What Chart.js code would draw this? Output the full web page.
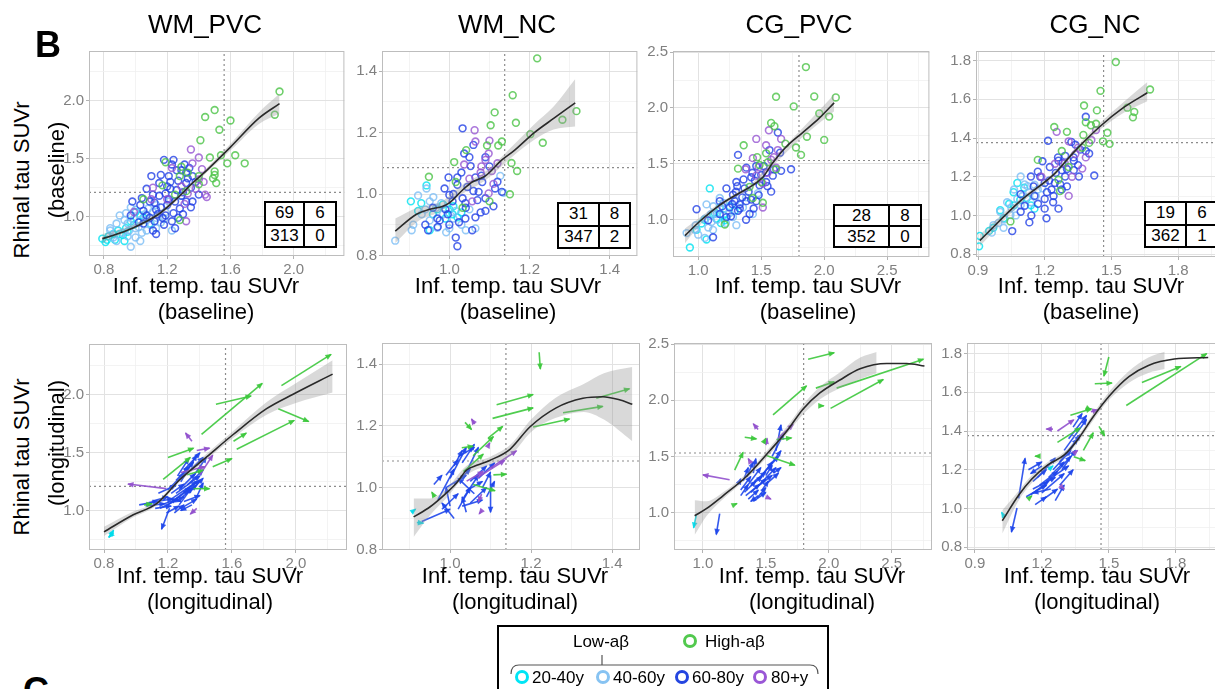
<!DOCTYPE html>
<html>
<head>
<meta charset="utf-8">
<script src="https://cdn.jsdelivr.net/npm/chart.js@4.4.1/dist/chart.umd.min.js"></script>
<style>
  html, body { margin: 0; padding: 0; }
  body { width: 1215px; height: 689px; overflow: hidden; position: relative; background: #fff;
         font-family: "Liberation Sans", Arial, Helvetica, sans-serif; color: #000; }
  canvas { position: absolute; z-index: 1; }
  .t { position: absolute; line-height: 1; white-space: nowrap; transform: translate(-50%, -50%); z-index: 3; }
  .v { position: absolute; line-height: 1; white-space: nowrap; transform: translate(-50%, -50%) rotate(-90deg); z-index: 3; font-size: 22px; }
  .ax { font-size: 22px; }
  .ct { position: absolute; display: grid; gap: 2px; padding: 2px; background: #000; z-index: 3; }
  .ct span { background: #fff; display: flex; align-items: center; justify-content: center; font-size: 17px; }
  .legend { position: absolute; left: 497px; top: 625px; width: 332px; height: 90px; border: 2px solid #000; box-sizing: border-box; z-index: 3; }
  .ring { position: absolute; width: 14px; height: 14px; border-radius: 50%; border: 3.5px solid; box-sizing: border-box; transform: translate(-50%, -50%); z-index: 4; }
  .lg { position: absolute; line-height: 1; white-space: nowrap; transform: translate(0, -50%); font-size: 17px; z-index: 4; }
</style>
</head>
<body>

<div class="t" style="left:48px;top:45px;font-size:36px;font-weight:bold">B</div>
<div class="t" style="left:36px;top:691px;font-size:36px;font-weight:bold">C</div>

<div class="t" style="left:205px;top:24px;font-size:26px">WM_PVC</div>
<div class="t" style="left:507px;top:24px;font-size:26px">WM_NC</div>
<div class="t" style="left:799px;top:24px;font-size:26px">CG_PVC</div>
<div class="t" style="left:1095px;top:24px;font-size:26px">CG_NC</div>

<div class="v" style="left:22px;top:180px">Rhinal tau SUVr</div>
<div class="v" style="left:57px;top:170px">(baseline)</div>
<div class="v" style="left:22px;top:457px">Rhinal tau SUVr</div>
<div class="v" style="left:57px;top:443px">(longitudinal)</div>

<div class="t ax" style="left:206px;top:286px">Inf. temp. tau SUVr</div>
<div class="t ax" style="left:206px;top:312px">(baseline)</div>
<div class="t ax" style="left:508px;top:286px">Inf. temp. tau SUVr</div>
<div class="t ax" style="left:508px;top:312px">(baseline)</div>
<div class="t ax" style="left:808px;top:286px">Inf. temp. tau SUVr</div>
<div class="t ax" style="left:808px;top:312px">(baseline)</div>
<div class="t ax" style="left:1091px;top:286px">Inf. temp. tau SUVr</div>
<div class="t ax" style="left:1091px;top:312px">(baseline)</div>

<div class="t ax" style="left:210px;top:576px">Inf. temp. tau SUVr</div>
<div class="t ax" style="left:210px;top:602px">(longitudinal)</div>
<div class="t ax" style="left:515px;top:576px">Inf. temp. tau SUVr</div>
<div class="t ax" style="left:515px;top:602px">(longitudinal)</div>
<div class="t ax" style="left:812px;top:576px">Inf. temp. tau SUVr</div>
<div class="t ax" style="left:812px;top:602px">(longitudinal)</div>
<div class="t ax" style="left:1097px;top:576px">Inf. temp. tau SUVr</div>
<div class="t ax" style="left:1097px;top:602px">(longitudinal)</div>

<!-- 2x2 counts above/below the cutoffs -->
<div class="ct" style="left:264px;top:201px;grid-template-columns:37px 30px;grid-auto-rows:20.5px">
  <span>69</span><span>6</span><span>313</span><span>0</span>
</div>
<div class="ct" style="left:557px;top:202px;grid-template-columns:39px 29px;grid-auto-rows:20.5px">
  <span>31</span><span>8</span><span>347</span><span>2</span>
</div>
<div class="ct" style="left:833px;top:204px;grid-template-columns:53px 30px;grid-auto-rows:19px">
  <span>28</span><span>8</span><span>352</span><span>0</span>
</div>
<div class="ct" style="left:1144px;top:201px;grid-template-columns:39px 30px;grid-auto-rows:20.5px">
  <span>19</span><span>6</span><span>362</span><span>1</span>
</div>

<div class="legend"></div>
<svg style="position:absolute;left:0;top:0;z-index:4" width="1215" height="689">
  <path d="M511 674 Q511 665 519 665 H810 Q818 665 818 674 M602 665 V655" fill="none" stroke="#555" stroke-width="1.2"/>
</svg>
<div class="t" style="left:601px;top:641px;font-size:17px;z-index:4">Low-aβ</div>
<div class="ring" style="left:690px;top:641px;border-color:#52C94E"></div>
<div class="lg" style="left:705px;top:641px">High-aβ</div>
<div class="ring" style="left:522px;top:677px;border-color:#00E5F5"></div>
<div class="lg" style="left:532px;top:677px">20-40y</div>
<div class="ring" style="left:603px;top:677px;border-color:#87C3F2"></div>
<div class="lg" style="left:613px;top:677px">40-60y</div>
<div class="ring" style="left:682px;top:677px;border-color:#2445E0"></div>
<div class="lg" style="left:692px;top:677px">60-80y</div>
<div class="ring" style="left:760px;top:677px;border-color:#9A57D6"></div>
<div class="lg" style="left:771px;top:677px">80+y</div>

<script>
// ---- tick labels and cutoffs ----
const xTicksWmPvc = [0.8, 1.2, 1.6, 2.0];
const yTicksWmPvc = [1.0, 1.5, 2.0];
const xTicksWmNc = [1.0, 1.2, 1.4];
const yTicksWmNc = [0.8, 1.0, 1.2, 1.4];
const xTicksCgPvc = [1.0, 1.5, 2.0, 2.5];
const yTicksCgPvc = [1.0, 1.5, 2.0, 2.5];
const xTicksCgNc = [0.9, 1.2, 1.5, 1.8];
const yTicksCgNc = [0.8, 1.0, 1.2, 1.4, 1.6, 1.8];

const cutWmPvc = [1.56, 1.21];
const cutWmNc = [1.138, 1.086];
const cutCgPvc = [1.80, 1.53];
const cutCgNc = [1.465, 1.376];

// ---- baseline scatter: [inf. temp., rhinal] ----
const wmPvcHigh = [[1.91,2.08],[1.88,1.88],[1.50,1.92],[1.44,1.86],[1.60,1.83],[1.53,1.75],[1.41,1.66],[1.63,1.53],[1.69,1.46],[1.58,1.46],[1.54,1.53],[1.47,1.51],[1.19,1.47],[1.29,1.43],[1.17,1.27],[1.28,1.35],[1.33,1.38],[1.25,1.19],[1.50,1.39],[1.50,1.36],[1.49,1.33],[1.51,1.29],[1.05,1.15],[1.28,0.97],[1.32,1.22],[1.40,1.35],[1.40,1.28]];
const wmPvc80 = [[1.35,1.58],[1.40,1.51],[1.23,1.42],[1.42,1.41],[1.40,1.32],[1.38,1.24],[1.44,1.19],[1.45,1.17],[1.31,1.11],[1.32,0.96],[1.10,1.15],[0.99,1.04],[1.20,1.15],[1.11,1.25],[1.36,1.46],[1.29,1.26],[1.33,1.20],[1.43,1.30]];
const wmPvc60 = [[1.18,1.49],[1.24,1.49],[1.29,1.40],[1.34,1.42],[1.21,1.35],[1.27,1.31],[1.32,1.29],[1.35,1.25],[1.22,1.24],[1.15,1.18],[1.20,1.10],[1.28,1.07],[1.32,1.13],[1.09,1.13],[1.13,1.06],[1.03,1.10],[1.17,0.99],[1.23,0.96],[1.11,0.88],[1.05,0.94],[0.97,1.01],[1.07,1.24],[1.10,1.35],[1.36,1.35],[1.36,1.13],[1.25,0.90],[0.98,1.13],[1.13,0.85],[1.15,1.29],[1.19,1.01],[1.30,1.21],[1.07,1.01],[1.12,0.96],[1.21,1.15],[1.25,1.13],[1.32,1.38],[1.40,1.19],
  [1.05,1.05],[1.12,1.12],[1.16,1.08],[1.19,1.20],[1.26,1.23],[1.29,1.18],[1.33,1.33],[1.26,1.40],[1.22,1.30],[1.14,1.02],[1.18,0.93],[1.09,0.99],[1.02,0.95],[1.24,1.03],[1.30,1.02],[1.35,1.08],[1.38,1.30],[1.16,1.36],[1.23,1.45],[1.11,1.19],[1.04,1.16],[1.27,0.99],[1.20,1.26],[1.31,1.45]];
const wmPvc40 = [[0.84,0.88],[0.88,0.79],[0.95,0.83],[1.00,0.90],[0.95,0.94],[0.90,1.01],[0.97,1.08],[0.94,1.03],[1.03,0.97],[1.07,0.88],[1.13,0.90],[1.19,1.04],[1.23,0.88],[1.08,1.07],[1.03,0.79],[1.13,0.99],[0.88,0.94],[0.84,0.90],[0.97,0.74],[1.00,0.82],[1.21,1.13],[1.29,1.18],[0.96,0.88],[1.07,0.97],[1.13,1.10],
  [0.92,0.86],[0.99,0.98],[1.02,0.91],[1.06,1.02],[1.10,0.93],[1.16,0.95],[1.00,1.06],[0.93,0.97],[0.86,0.82],[1.11,1.04],[1.18,0.98],[1.04,0.86]];
const wmPvc20 = [[0.79,0.81],[0.81,0.78],[0.83,0.83],[0.90,0.85],[0.93,0.79],[0.89,0.88],[0.97,0.96],[0.94,0.90],[1.03,1.01],[1.09,0.94],[0.86,0.85],[1.00,1.04],[0.82,0.80],[0.87,0.80],[0.92,0.84],[0.95,0.87],[0.99,0.93],[1.05,0.99]];
const wmPvcFit = [[0.79,0.81],[0.84,0.83],[0.98,0.90],[1.15,1.025],[1.28,1.18],[1.36,1.29],[1.45,1.40],[1.60,1.60],[1.78,1.85],[1.91,1.975]];
const wmPvcBand = [[0.79,0.77,0.85],[0.90,0.84,0.89],[1.00,0.90,0.94],[1.15,1.005,1.045],[1.28,1.16,1.20],[1.45,1.38,1.42],[1.60,1.57,1.63],[1.78,1.80,1.90],[1.91,1.89,2.06]];

const wmNcHigh = [[1.219,1.442],[1.158,1.322],[1.113,1.266],[1.103,1.224],[1.166,1.232],[1.202,1.195],[1.233,1.167],[1.282,1.242],[1.317,1.270],[1.131,1.171],[1.122,1.158],[1.094,1.158],[1.042,1.143],[1.012,1.104],[0.949,1.056],[1.155,1.101],[1.169,1.075],[1.100,0.976],[1.151,0.999],[1.033,0.955],[1.016,1.039]];
const wmNc80 = [[1.063,1.208],[1.065,1.171],[1.100,1.174],[1.098,1.132],[1.090,1.111],[1.037,1.096],[1.078,1.070],[1.110,1.033],[1.098,1.002],[1.057,0.976],[1.106,1.075],[1.05,1.05],[1.08,1.09],[1.12,1.10]];
const wmNc60 = [[1.033,1.214],[1.037,1.132],[1.053,1.091],[0.998,1.054],[1.020,1.054],[1.065,1.054],[1.082,1.039],[1.045,1.023],[1.073,1.007],[1.090,0.986],[1.114,1.018],[1.131,1.007],[0.988,1.018],[1.008,0.976],[1.041,0.955],[1.065,0.924],[1.078,0.940],[0.947,0.882],[0.976,0.914],[1.016,0.858],[1.020,0.830],[1.024,0.908],[1.090,0.945],[0.996,0.934],[1.057,0.882],[0.971,0.893],[0.959,0.955],[1.033,0.986],[1.000,0.997],
  [1.01,1.00],[1.04,0.97],[1.06,1.01],[1.08,1.06],[1.10,1.09],[1.12,1.04],[1.03,1.07],[1.05,1.12],[0.99,0.95],[0.97,0.92],[1.00,0.90],[1.04,0.92],[1.07,0.98],[1.11,0.96],[1.02,1.03],[0.94,0.90],[1.09,1.12],[1.06,1.16]];
const wmNc40 = [[0.865,0.848],[0.906,0.882],[0.922,0.995],[0.943,1.018],[0.951,0.976],[0.967,0.955],[0.984,0.934],[0.992,0.875],[1.041,0.882],[1.065,0.888],[1.127,1.059],[1.135,1.004],[0.951,0.914],[0.931,0.934],[1.016,0.945],[1.000,0.888],
  [0.96,0.99],[0.98,0.97],[1.01,0.92],[0.94,0.95],[0.97,0.89],[1.03,0.90],[0.91,0.90],[1.05,0.95]];
const wmNc20 = [[0.904,0.976],[0.943,1.028],[0.922,0.945],[0.959,0.934],[0.984,0.966],[1.008,0.934],[1.020,0.924],[1.000,0.950],[0.951,0.882],[0.93,0.97],[0.97,0.95],[1.01,0.96],[1.03,0.94],[0.99,0.92]];
const wmNcFit = [[0.865,0.879],[0.918,0.934],[0.951,0.950],[0.984,0.960],[1.000,0.971],[1.033,1.013],[1.057,1.039],[1.090,1.059],[1.131,1.111],[1.163,1.143],[1.212,1.200],[1.261,1.247],[1.314,1.297]];
const wmNcBand = [[0.865,0.84,0.92],[0.92,0.91,0.955],[0.98,0.945,0.975],[1.03,0.998,1.028],[1.09,1.045,1.073],[1.16,1.125,1.16],[1.21,1.175,1.225],[1.26,1.21,1.285],[1.314,1.22,1.375]];

const cgPvcHigh = [[1.855,2.366],[1.618,2.10],[1.921,2.103],[2.092,2.094],[1.758,2.014],[1.961,1.951],[2.039,1.923],[1.579,1.866],[1.605,1.837],[1.863,1.743],[2.0,1.714],[1.692,1.68],[1.776,1.646],[1.816,1.58],[1.361,1.666],[1.539,1.594],[1.468,1.56],[1.316,1.457],[1.487,1.489],[1.553,1.514],[1.618,1.451],[1.5,1.337],[1.434,1.194],[1.211,0.957],[1.513,1.151],[1.408,1.294]];
const cgPvc80 = [[1.561,1.8],[1.461,1.723],[1.539,1.666],[1.658,1.723],[1.632,1.623],[1.579,1.537],[1.618,1.466],[1.513,1.323],[1.513,1.109],[1.461,1.394],[1.376,1.451],[1.434,1.551],[1.55,1.42],[1.48,1.47],[1.60,1.56]];
const cgPvc60 = [[1.632,1.78],[1.566,1.623],[1.316,1.58],[1.461,1.48],[1.382,1.466],[1.539,1.423],[1.658,1.437],[1.737,1.451],[1.421,1.38],[1.303,1.337],[1.224,1.28],[1.368,1.28],[1.487,1.309],[1.579,1.251],[1.289,1.166],[1.382,1.166],[1.461,1.166],[1.25,1.109],[1.316,1.08],[1.408,1.051],[1.171,1.051],[1.118,0.843],[0.987,1.094],[1.539,1.337],[1.592,1.394],[1.171,1.166],[1.079,0.994],[1.276,1.223],[1.329,1.137],[1.224,1.023],
  [1.30,1.25],[1.35,1.20],[1.40,1.25],[1.45,1.35],[1.50,1.40],[1.43,1.42],[1.36,1.36],[1.27,1.14],[1.33,1.10],[1.38,1.00],[1.44,1.10],[1.48,1.22],[1.52,1.48],[1.55,1.30],[1.60,1.45],[1.26,1.03],[1.19,1.12],[1.42,1.18],[1.65,1.60],[1.31,1.30]];
const cgPvc40 = [[0.908,0.88],[0.974,0.909],[1.053,0.837],[1.053,1.009],[1.105,0.98],[1.145,1.051],[1.197,1.094],[1.276,1.023],[1.303,0.951],[1.355,1.109],[1.434,1.051],[1.171,1.194],[1.066,1.137],[1.474,1.237],[1.118,0.909],[1.0,0.866],
  [1.10,1.05],[1.15,1.00],[1.20,1.15],[1.25,1.06],[1.22,0.97],[1.08,0.93],[1.30,1.17],[1.38,1.20],[1.12,1.12],[0.98,0.95]];
const cgPvc20 = [[0.934,0.751],[1.066,0.823],[1.092,1.28],[1.118,1.051],[1.171,1.109],[1.026,0.966],[1.145,1.009],[1.211,0.994],[1.289,1.08],[0.987,0.909],[1.05,1.00],[1.13,1.06],[1.20,1.04],[1.25,1.12],[1.18,0.97]];
const cgPvcFit = [[0.895,0.857],[1.013,0.986],[1.171,1.131],[1.303,1.223],[1.434,1.309],[1.513,1.38],[1.592,1.509],[1.697,1.651],[1.829,1.78],[1.961,1.909],[2.079,2.046]];
const cgPvcBand = [[0.895,0.79,0.92],[1.013,0.95,1.02],[1.171,1.11,1.15],[1.303,1.205,1.24],[1.434,1.29,1.33],[1.592,1.48,1.54],[1.829,1.74,1.82],[2.079,1.97,2.12]];

const cgNcHigh = [[1.52,1.793],[1.451,1.644],[1.674,1.651],[1.377,1.568],[1.435,1.543],[1.572,1.557],[1.603,1.535],[1.597,1.507],[1.385,1.482],[1.431,1.474],[1.243,1.457],[1.3,1.432],[1.408,1.466],[1.374,1.416],[1.482,1.427],[1.462,1.383],[1.492,1.37],[1.4,1.375],[1.369,1.35],[1.277,1.333],[1.169,1.287],[1.308,1.25],[1.269,1.126],[1.046,0.969],[1.262,1.184]];
const cgNc80 = [[1.254,1.432],[1.308,1.383],[1.431,1.441],[1.338,1.317],[1.385,1.3],[1.323,1.2],[1.308,1.101],[1.185,1.2],[1.246,1.267],[1.369,1.242],[1.29,1.27],[1.35,1.35],[1.41,1.39]];
const cgNc60 = [[1.385,1.51],[1.215,1.386],[1.338,1.366],[1.385,1.333],[1.423,1.206],[1.292,1.308],[1.331,1.283],[1.262,1.283],[1.223,1.25],[1.277,1.234],[1.331,1.234],[1.169,1.226],[1.138,1.201],[1.2,1.168],[1.246,1.168],[1.292,1.201],[1.092,1.11],[1.154,1.101],[1.2,1.085],[1.238,1.068],[1.262,1.035],[1.2,1.035],[1.131,0.964],[1.208,0.985],[1.054,0.919],[1.092,1.019],[1.231,1.134],[1.277,1.134],[1.354,1.201],
  [1.15,1.15],[1.18,1.20],[1.22,1.18],[1.25,1.22],[1.28,1.27],[1.30,1.24],[1.33,1.30],[1.36,1.34],[1.27,1.16],[1.21,1.12],[1.17,1.06],[1.11,1.05],[1.24,1.10],[1.30,1.15],[1.35,1.26],[1.40,1.32],[1.26,1.30],[1.14,1.00],[1.19,1.28],[1.32,1.38]];
const cgNc40 = [[1.0,1.019],[1.031,1.068],[1.062,1.134],[1.092,1.201],[1.123,1.151],[1.169,1.134],[1.046,1.002],[1.092,1.052],[1.138,1.068],[0.992,0.961],[0.962,0.911],[1.015,0.936],[1.154,1.159],[1.077,1.085],
  [1.05,1.04],[1.10,1.10],[1.13,1.12],[1.07,1.00],[1.02,0.98],[1.16,1.10],[1.11,1.16],[0.97,0.95],[1.19,1.14]];
const cgNc20 = [[0.905,0.84],[0.908,0.894],[1.0,1.027],[1.077,1.168],[1.108,1.143],[1.138,1.052],[1.062,1.052],[1.015,0.985],[0.969,0.936],[1.154,1.035],[1.04,1.06],[1.09,1.08],[1.12,1.09],[0.95,0.92],[1.06,1.12]];
const cgNcFit = [[0.908,0.87],[1.092,1.076],[1.246,1.217],[1.323,1.317],[1.446,1.457],[1.554,1.557],[1.662,1.634]];
const cgNcBand = [[0.908,0.84,0.9],[1.092,1.06,1.09],[1.246,1.205,1.23],[1.323,1.305,1.33],[1.446,1.44,1.475],[1.554,1.53,1.585],[1.662,1.59,1.69]];

// ---- longitudinal change: [x0, y0, x1, y1], arrow points to follow-up ----
const wmPvcLHigh = [[1.91,2.08,2.22,2.35],[1.50,1.92,1.72,1.99],[1.41,1.66,1.79,2.10],[1.89,1.88,2.08,1.77],[1.63,1.53,1.99,1.78],[1.20,1.46,1.36,1.54],[1.17,1.27,1.34,1.46],[1.48,1.38,1.60,1.45],[1.36,1.19,1.46,1.19],[1.61,1.60,1.69,1.67],[1.32,1.31,1.42,1.35],[1.05,1.05,1.10,1.06]];
const wmPvcL80 = [[1.35,1.60,1.31,1.67],[1.19,1.19,0.95,1.23],[1.38,1.02,1.34,0.97],[1.38,1.52,1.46,1.54],[1.28,1.33,1.43,1.38],[1.40,1.31,1.48,1.48]];
const wmPvcL60 = [[1.02,1.05,1.14,1.08],[1.08,1.07,1.23,1.10],[1.15,1.02,1.30,1.12],[1.20,1.05,1.34,1.20],[1.22,1.10,1.38,1.25],[1.25,1.15,1.40,1.30],[1.24,1.22,1.36,1.42],[1.28,1.25,1.38,1.48],[1.30,1.35,1.40,1.50],[1.26,1.30,1.33,1.45],[1.33,1.15,1.42,1.28],[1.30,1.08,1.40,1.13],[1.21,1.02,1.16,0.84],[1.18,1.12,1.28,1.08],[1.35,1.05,1.28,1.00],[1.27,1.05,1.35,1.20],[1.20,1.18,1.30,1.32],[1.32,1.22,1.42,1.35],[1.10,1.08,1.20,1.12],[1.36,1.30,1.44,1.46],[1.14,1.15,1.25,1.22],[1.28,1.02,1.38,1.10],[1.38,1.12,1.42,1.24],[1.24,0.98,1.30,1.05],[1.06,1.04,1.18,1.06],
  [1.16,1.05,1.26,1.10],[1.23,1.08,1.33,1.18],[1.29,1.12,1.38,1.22],[1.31,1.18,1.40,1.26],[1.19,0.98,1.27,1.04],[1.25,1.26,1.33,1.38],[1.34,1.35,1.42,1.46],[1.12,1.02,1.22,1.04],[1.27,1.18,1.37,1.32],[1.22,1.15,1.30,1.23]];
const wmPvcL40 = [];
const wmPvcL20 = [[0.86,0.81,0.83,0.77],[0.83,0.77,0.86,0.83]];
const wmPvcLFit = [[0.80,0.817],[0.983,0.964],[1.129,1.061],[1.275,1.269],[1.442,1.464],[1.608,1.658],[1.817,1.881],[1.983,2.006],[2.23,2.18]];
const wmPvcLBand = [[0.80,0.78,0.86],[0.98,0.94,0.99],[1.13,1.045,1.08],[1.275,1.25,1.29],[1.44,1.44,1.49],[1.61,1.63,1.69],[1.82,1.83,1.94],[2.0,1.93,2.10],[2.23,2.02,2.30]];

const wmNcLHigh = [[1.22,1.438,1.223,1.384],[1.115,1.268,1.205,1.301],[1.105,1.224,1.205,1.258],[1.205,1.196,1.295,1.222],[1.279,1.242,1.377,1.263],[1.361,1.289,1.443,1.32],[1.094,1.16,1.13,1.198],[1.037,1.211,1.053,1.188],[1.029,1.129,1.057,1.134],[1.057,1.103,1.107,1.165],[1.033,1.052,1.082,1.108],[1.107,1.041,1.139,1.043],[1.057,1.01,1.111,0.99],[0.962,0.97,0.955,0.985]];
const wmNcL80 = [[1.061,1.206,1.053,1.222],[1.041,1.021,1.082,1.052],[1.066,1.031,1.135,1.088],[1.098,1.062,1.164,1.119],[1.078,0.979,1.070,0.954],[1.078,0.925,1.072,0.915],[1.094,1.135,1.098,1.145]];
const wmNcL60 = [[0.93,0.89,1.00,0.93],[0.97,0.96,1.01,1.06],[1.00,1.03,1.04,1.13],[1.01,1.07,1.03,1.12],[1.02,0.93,1.05,1.00],[1.03,0.96,1.07,1.04],[1.04,0.99,1.08,1.02],[1.00,0.94,0.99,1.00],[1.05,1.02,1.09,1.07],[1.10,1.04,1.10,0.92],[1.09,0.97,1.11,1.02],[0.99,1.00,1.04,1.04],[1.01,0.90,0.98,0.95],[1.06,0.98,1.02,1.03],[1.02,1.10,1.06,1.13],[1.04,1.05,1.07,1.13],[0.96,1.01,0.98,1.04],[1.03,0.94,1.08,0.96],
  [0.98,0.93,1.02,0.98],[1.05,0.95,1.09,1.00],[1.01,1.01,1.05,1.06],[1.07,1.03,1.11,1.08],[1.03,1.08,1.06,1.14],[0.99,1.04,1.02,1.09],[1.04,0.92,1.03,0.97],[1.08,1.00,1.10,1.05]];
const wmNcL40 = [];
const wmNcL20 = [[0.918,0.887,0.934,0.885],[0.905,0.92,0.915,0.93]];
const wmNcLFit = [[0.91,0.905],[0.951,0.938],[0.988,0.979],[1.016,1.015],[1.041,1.057],[1.066,1.072],[1.098,1.088],[1.148,1.124],[1.197,1.196],[1.262,1.258],[1.328,1.289],[1.377,1.294],[1.418,1.284],[1.45,1.27]];
const wmNcLBand = [[0.91,0.84,0.965],[0.95,0.91,0.965],[0.99,0.965,0.995],[1.04,1.04,1.07],[1.10,1.075,1.10],[1.15,1.105,1.14],[1.20,1.18,1.22],[1.26,1.225,1.29],[1.33,1.245,1.335],[1.38,1.22,1.37],[1.45,1.15,1.39]];

const cgPvcLHigh = [[1.836,2.366,2.043,2.423],[1.557,1.87,1.823,2.128],[1.897,2.108,2.043,2.165],[2.014,1.928,2.433,2.185],[2.062,2.108,2.752,2.366],[1.93,1.95,1.96,1.95],[1.332,1.67,1.425,1.656],[1.504,1.507,1.73,1.421],[1.252,1.378,1.319,1.535],[1.584,1.65,1.704,1.664],[1.48,1.62,1.50,1.66],[1.25,1.07,1.27,1.08]];
const cgPvcL80 = [[1.438,1.74,1.40,1.79],[1.212,1.292,1.0,1.335],[1.597,1.664,1.717,1.784],[1.50,1.60,1.51,1.66],[1.52,1.13,1.54,1.12],[1.37,1.46,1.36,1.48]];
const cgPvcL60 = [[1.133,0.991,1.106,0.805],[1.58,1.55,1.62,1.78],[1.30,1.20,1.38,1.32],[1.34,1.15,1.45,1.25],[1.38,1.18,1.50,1.30],[1.42,1.22,1.55,1.33],[1.36,1.25,1.46,1.40],[1.45,1.30,1.55,1.45],[1.48,1.35,1.60,1.50],[1.52,1.40,1.62,1.55],[1.55,1.50,1.64,1.70],[1.40,1.10,1.50,1.18],[1.32,1.28,1.36,1.40],[1.50,1.25,1.60,1.35],[1.44,1.15,1.38,1.10],[1.47,1.20,1.52,1.28],[1.40,1.35,1.42,1.48],[1.56,1.35,1.62,1.40],[1.35,1.32,1.40,1.45],[1.28,1.25,1.30,1.30],
  [1.33,1.18,1.42,1.28],[1.38,1.24,1.47,1.32],[1.41,1.28,1.50,1.36],[1.43,1.13,1.50,1.22],[1.36,1.12,1.44,1.20],[1.46,1.26,1.58,1.40],[1.50,1.33,1.55,1.42],[1.30,1.15,1.36,1.25]];
const cgPvcL40 = [];
const cgPvcL20 = [[0.947,0.977,0.926,0.863]];
const cgPvcLFit = [[0.934,0.971],[1.027,1.034],[1.159,1.149],[1.345,1.321],[1.531,1.55],[1.664,1.721],[1.796,1.922],[1.929,2.065],[2.088,2.18],[2.248,2.28],[2.46,2.328],[2.619,2.328],[2.76,2.305]];
const cgPvcLBand = [[0.934,0.80,1.11],[1.03,0.97,1.10],[1.16,1.12,1.18],[1.345,1.30,1.345],[1.53,1.52,1.58],[1.66,1.69,1.755],[1.80,1.88,1.965],[1.93,2.01,2.12],[2.09,2.11,2.25],[2.25,2.19,2.38],[2.38,2.24,2.43]];

const cgNcLHigh = [[1.50,1.783,1.478,1.684],[1.437,1.644,1.514,1.648],[1.648,1.651,1.822,1.734],[1.578,1.532,1.938,1.80],[1.456,1.424,1.481,1.375],[1.386,1.30,1.43,1.391],[1.328,1.482,1.422,1.515],[1.343,1.267,1.394,1.247],[1.27,1.341,1.372,1.416],[1.14,1.05,1.155,1.065],[1.19,1.27,1.17,1.27],[1.40,1.52,1.42,1.51]];
const cgNcL80 = [[1.25,1.41,1.22,1.41],[1.27,1.40,1.343,1.458],[1.35,1.29,1.36,1.30],[1.29,1.11,1.30,1.10],[1.42,1.50,1.45,1.51]];
const cgNcL60 = [[1.089,1.002,1.064,0.878],[1.096,1.052,1.125,1.259],[1.13,1.06,1.22,1.12],[1.16,1.10,1.26,1.16],[1.20,1.08,1.30,1.18],[1.22,1.14,1.32,1.22],[1.18,1.16,1.26,1.26],[1.25,1.20,1.33,1.30],[1.28,1.24,1.36,1.36],[1.30,1.30,1.40,1.46],[1.32,1.36,1.40,1.48],[1.14,1.20,1.20,1.24],[1.24,1.10,1.16,1.08],[1.26,1.04,1.30,1.12],[1.20,1.22,1.15,1.18],[1.34,1.42,1.38,1.49],[1.28,1.12,1.34,1.20],[1.17,1.02,1.22,1.06],
  [1.15,1.07,1.23,1.14],[1.19,1.12,1.27,1.19],[1.23,1.16,1.30,1.24],[1.26,1.18,1.33,1.27],[1.21,1.05,1.27,1.10],[1.29,1.20,1.35,1.30],[1.31,1.27,1.37,1.38],[1.16,1.14,1.22,1.20]];
const cgNcL40 = [];
const cgNcL20 = [[1.03,0.96,1.02,0.98],[1.23,1.20,1.25,1.22]];
const cgNcLFit = [[1.023,0.936],[1.096,1.068],[1.154,1.151],[1.227,1.225],[1.299,1.275],[1.357,1.35],[1.43,1.474],[1.502,1.581],[1.59,1.681],[1.677,1.739],[1.793,1.772],[1.945,1.78]];
const cgNcLBand = [[1.023,0.87,0.99],[1.096,1.04,1.09],[1.154,1.13,1.17],[1.227,1.21,1.24],[1.299,1.26,1.29],[1.357,1.335,1.365],[1.43,1.455,1.49],[1.50,1.56,1.60],[1.59,1.65,1.71],[1.677,1.70,1.78],[1.75,1.72,1.81]];

// 20-40y, 40-60y, 60-80y, 80+y, high amyloid
const groupColors = ['rgba(0,226,240,0.8)', 'rgba(125,190,245,0.8)', 'rgba(35,65,230,0.8)', 'rgba(150,85,210,0.8)', 'rgba(75,195,70,0.8)'];
const arrowColors = ['rgba(0,220,235,0.9)', 'rgba(125,190,245,0.9)', 'rgba(30,70,235,0.9)', 'rgba(145,80,205,0.9)', 'rgba(60,200,60,0.9)'];

const Y_W = 46, X_H = 24, PAD = 3;
Chart.defaults.font.family = '"Liberation Sans", Arial, Helvetica, sans-serif';

const panels = [
    {rect: [89, 43, 258, 213], xr: [0.706, 2.32], yr: [0.66, 2.43], xt: xTicksWmPvc, yt: yTicksWmPvc, cut: cutWmPvc,
     pts: [wmPvc20, wmPvc40, wmPvc60, wmPvc80, wmPvcHigh], fit: wmPvcFit, band: wmPvcBand},
    {rect: [382, 43, 258, 213], xr: [0.832, 1.469], yr: [0.798, 1.466], xt: xTicksWmNc, yt: yTicksWmNc, cut: cutWmNc,
     pts: [wmNc20, wmNc40, wmNc60, wmNc80, wmNcHigh], fit: wmNcFit, band: wmNcBand},
    {rect: [673, 43, 259, 214], xr: [0.80, 2.835], yr: [0.666, 2.51], xt: xTicksCgPvc, yt: yTicksCgPvc, cut: cutCgPvc,
     pts: [cgPvc20, cgPvc40, cgPvc60, cgPvc80, cgPvcHigh], fit: cgPvcFit, band: cgPvcBand},
    {rect: [976, 43, 258, 214], xr: [0.891, 2.04], yr: [0.785, 1.85], xt: xTicksCgNc, yt: yTicksCgNc, cut: cutCgNc,
     pts: [cgNc20, cgNc40, cgNc60, cgNc80, cgNcHigh], fit: cgNcFit, band: cgNcBand},
    {rect: [89, 336, 258, 214], xr: [0.706, 2.32], yr: [0.66, 2.44], xt: xTicksWmPvc, yt: yTicksWmPvc, cut: cutWmPvc,
     arrows: [wmPvcL20, wmPvcL40, wmPvcL60, wmPvcL80, wmPvcLHigh], fit: wmPvcLFit, band: wmPvcLBand},
    {rect: [382, 335, 258, 215], xr: [0.832, 1.469], yr: [0.798, 1.468], xt: xTicksWmNc, yt: yTicksWmNc, cut: cutWmNc,
     arrows: [wmNcL20, wmNcL40, wmNcL60, wmNcL80, wmNcLHigh], fit: wmNcLFit, band: wmNcLBand},
    {rect: [674, 335, 258, 215], xr: [0.77, 2.82], yr: [0.666, 2.51], xt: xTicksCgPvc, yt: yTicksCgPvc, cut: cutCgPvc,
     arrows: [cgPvcL20, cgPvcL40, cgPvcL60, cgPvcL80, cgPvcLHigh], fit: cgPvcLFit, band: cgPvcLBand},
    {rect: [967, 335, 258, 215], xr: [0.865, 2.02], yr: [0.785, 1.855], xt: xTicksCgNc, yt: yTicksCgNc, cut: cutCgNc,
     arrows: [cgNcL20, cgNcL40, cgNcL60, cgNcL80, cgNcLHigh], fit: cgNcLFit, band: cgNcLBand},
];

// grey frame round the plotting panel
const panelBorder = {
    id: 'panelBorder',
    afterDatasetsDraw(chart) {
        const a = chart.chartArea, ctx = chart.ctx;
        ctx.save();
        ctx.strokeStyle = '#BDBDBD';
        ctx.lineWidth = 1;
        ctx.strokeRect(a.left + 0.5, a.top + 0.5, a.right - a.left - 1, a.bottom - a.top - 1);
        ctx.restore();
    }
};

// heads for the baseline -> follow-up segments
const arrowHeads = {
    id: 'arrowHeads',
    afterDatasetDraw(chart, args) {
        const ds = chart.data.datasets[args.index];
        if (!ds.arrows) return;
        const a = chart.chartArea, ctx = chart.ctx, pts = args.meta.data;
        ctx.save();
        ctx.beginPath();
        ctx.rect(a.left, a.top, a.right - a.left, a.bottom - a.top);
        ctx.clip();
        ctx.fillStyle = ds.borderColor;
        for (let j = 1; j < pts.length; j += 2) {
            const p0 = pts[j - 1], p1 = pts[j];
            const ang = Math.atan2(p1.y - p0.y, p1.x - p0.x);
            ctx.save();
            ctx.translate(p1.x, p1.y);
            ctx.rotate(ang);
            ctx.beginPath();
            ctx.moveTo(1, 0);
            ctx.lineTo(-5.5, -2.8);
            ctx.lineTo(-5.5, 2.8);
            ctx.closePath();
            ctx.fill();
            ctx.restore();
        }
        ctx.restore();
    }
};

function axis(range, majors, pos) {
    const step = majors[1] - majors[0];
    const minors = [];
    for (let k = -1; k <= majors.length + 2; k++) {
        const v = majors[0] + step * (k + 0.5);
        if (v >= range[0] && v <= range[1]) minors.push(v);
    }
    const isMajor = v => majors.some(m => Math.abs(m - v) < 1e-6);
    const all = majors.filter(v => v >= range[0] && v <= range[1]).concat(minors).sort((a, b) => a - b);
    return {
        type: 'linear',
        position: pos,
        min: range[0],
        max: range[1],
        afterBuildTicks: s => { s.ticks = all.map(v => ({value: v})); },
        afterFit: s => { if (pos === 'left') s.width = Y_W; else s.height = X_H; },
        border: {display: false},
        grid: {
            color: c => isMajor(c.tick.value) ? '#E2E2E2' : '#F0F0F0',
            lineWidth: c => isMajor(c.tick.value) ? 1 : 0.8,
            drawTicks: true,
            tickLength: 3,
            tickColor: c => isMajor(c.tick.value) ? '#B3B3B3' : 'rgba(0,0,0,0)',
        },
        ticks: {
            autoSkip: false,
            maxRotation: 0,
            padding: 2,
            color: '#808080',
            font: {size: 15},
            callback: v => isMajor(v) ? v.toFixed(1) : '',
        },
    };
}

function xy(list) {
    return list.map(p => ({x: p[0], y: p[1]}));
}

function buildDatasets(p) {
    const ds = [];
    const dash = {type: 'line', borderColor: '#8C8C8C', borderWidth: 1.2, borderDash: [2, 3], pointRadius: 0, fill: false, order: 9};
    ds.push(Object.assign({data: [{x: p.cut[0], y: p.yr[0]}, {x: p.cut[0], y: p.yr[1]}]}, dash));
    ds.push(Object.assign({data: [{x: p.xr[0], y: p.cut[1]}, {x: p.xr[1], y: p.cut[1]}]}, dash));

    (p.pts || []).forEach((g, k) => ds.push({
        type: 'scatter', data: xy(g), order: 8 - k,
        pointStyle: 'circle', pointRadius: 3.4, borderWidth: 1.6,
        borderColor: groupColors[k], backgroundColor: 'rgba(0,0,0,0)',
    }));

    (p.arrows || []).forEach((g, k) => ds.push({
        type: 'line', arrows: true, order: 8 - k,
        data: g.flatMap(a => [{x: a[0], y: a[1]}, {x: a[2], y: a[3]}]),
        borderColor: arrowColors[k], borderWidth: 1.6, pointRadius: 0, tension: 0, fill: false,
        segment: {borderColor: c => c.p0DataIndex % 2 ? 'rgba(0,0,0,0)' : arrowColors[k]},
    }));

    // confidence band of the smooth fit
    ds.push({type: 'line', data: p.band.map(b => ({x: b[0], y: b[1]})), order: 2,
             borderColor: 'rgba(0,0,0,0)', borderWidth: 1, pointRadius: 0, fill: false, cubicInterpolationMode: 'monotone'});
    ds.push({type: 'line', data: p.band.map(b => ({x: b[0], y: b[2]})), order: 2,
             borderColor: 'rgba(0,0,0,0)', borderWidth: 1, pointRadius: 0, fill: '-1',
             backgroundColor: 'rgba(150,150,150,0.36)', cubicInterpolationMode: 'monotone'});
    ds.push({type: 'line', data: xy(p.fit), order: 1,
             borderColor: '#2A2A2A', borderWidth: 1.6, pointRadius: 0, fill: false, cubicInterpolationMode: 'monotone'});
    return ds;
}

panels.forEach(p => {
    const [left, top, w, h] = p.rect;
    const canvas = document.createElement('canvas');
    canvas.width = Y_W + w + PAD;
    canvas.height = PAD + h + X_H;
    canvas.style.left = (left - Y_W) + 'px';
    canvas.style.top = (top - PAD) + 'px';
    document.body.appendChild(canvas);

    new Chart(canvas, {
        type: 'scatter',
        data: {datasets: buildDatasets(p)},
        options: {
            responsive: false,
            animation: false,
            events: [],
            devicePixelRatio: 1,
            layout: {padding: {top: PAD, right: PAD, left: 0, bottom: 0}},
            plugins: {legend: {display: false}, tooltip: {enabled: false}},
            scales: {x: axis(p.xr, p.xt, 'bottom'), y: axis(p.yr, p.yt, 'left')},
        },
        plugins: [panelBorder, arrowHeads],
    });
});
</script>
</body>
</html>
